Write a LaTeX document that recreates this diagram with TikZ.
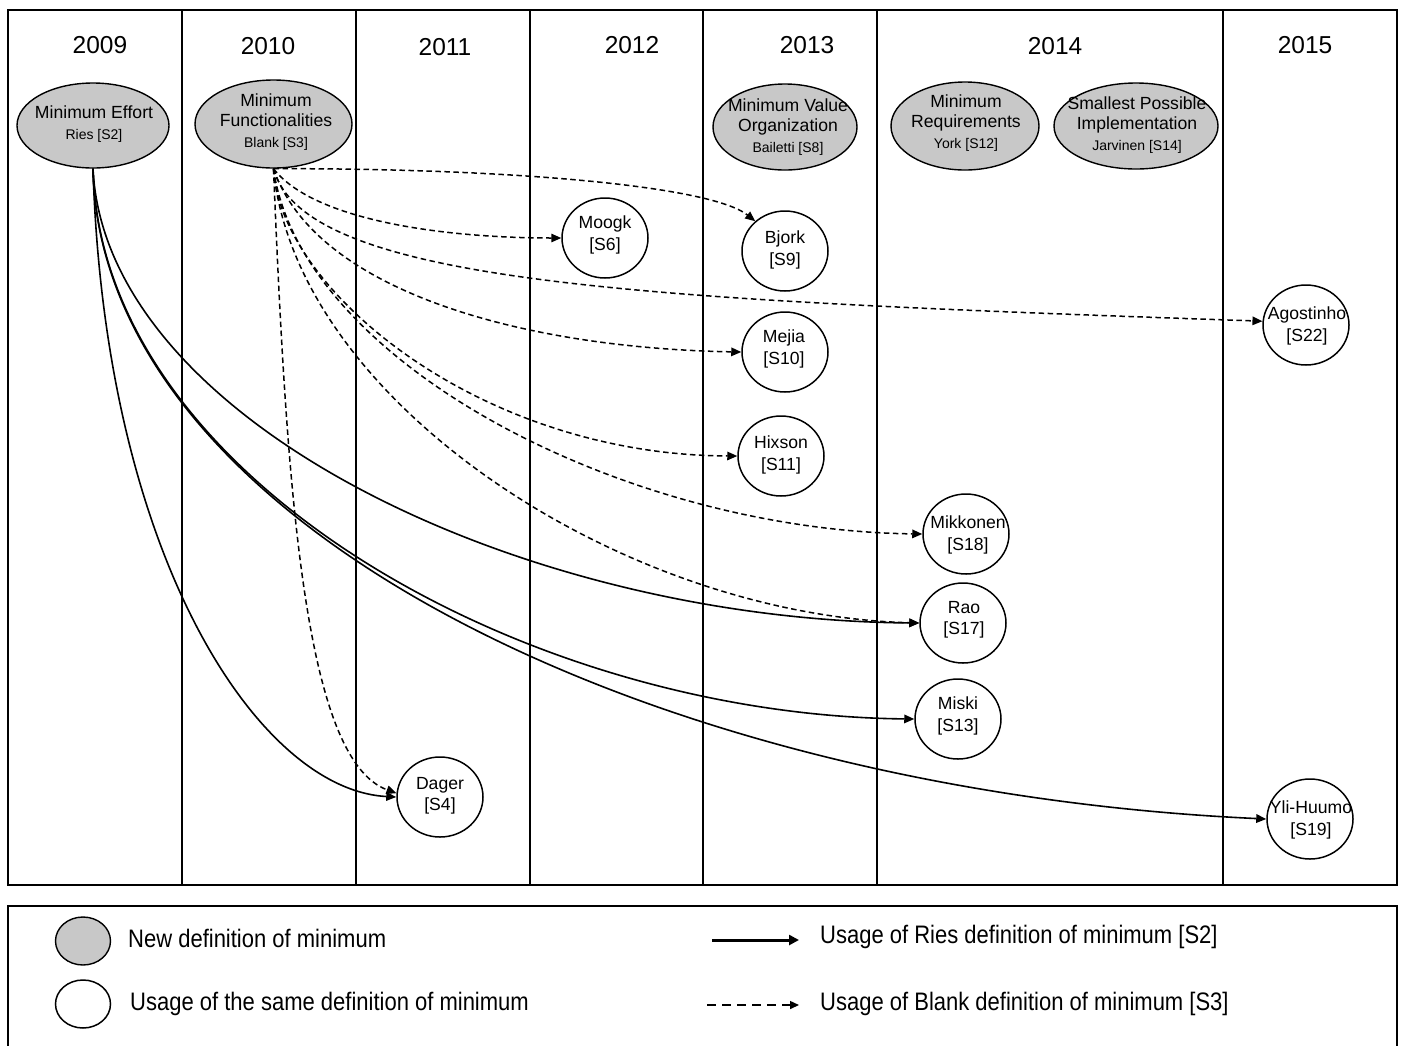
\documentclass[tikz,border=0pt]{standalone}
\usepackage{fontspec}
\setmainfont{Liberation Sans}
\usepackage{graphicx}
\usetikzlibrary{shapes.geometric,arrows.meta}
\definecolor{defgrey}{RGB}{200,200,200}
\newcommand\subtxt[1]{{\fontsize{14}{16}\selectfont #1}}
\newcommand\lscale[1]{\scalebox{1}[1.15]{#1}}
\begin{document}
\begin{tikzpicture}[x=1pt,y=-1pt,
  frame/.style={line width=2pt},
  divider/.style={line width=1.6pt},
  defn/.style={ellipse, draw, fill=defgrey, line width=1.4pt, inner sep=0},
  usenode/.style={ellipse, draw, fill=white, line width=1.5pt, minimum width=86pt, minimum height=80pt, inner sep=0},
  year/.style={font=\fontsize{24.5}{28}\selectfont, inner sep=0},
  dtext/.style={align=center, font=\fontsize{17.6}{20.5}\selectfont, inner sep=0},
  ctext/.style={align=center, font=\fontsize{17.6}{21.5}\selectfont, inner sep=0},
  ltext/.style={anchor=west, font=\fontsize{22}{26}\selectfont, inner sep=0},
  ries/.style={line width=1.6pt, -{Triangle[length=10pt,width=8.5pt]}},
  blank/.style={ries, line width=1.5pt, dash pattern=on 5.5pt off 3.5pt},
]
\useasboundingbox (0,0) rectangle (1403,1045);
\fill[white] (0,0) rectangle (1403,1045);

% frame and columns
\draw[frame] (8,10) rectangle (1397,885);
\foreach \x in {182,356,530,703,877,1223} \draw[divider] (\x,10) -- (\x,885);
\draw[frame] (8,906) rectangle (1397,1060);

% years
\node[year] (y2009) at (100,45) {2009};
\node[year] (y2010) at (268,46) {2010};
\node[year] (y2011) at (445,47) {2011};
\node[year] (y2012) at (632,45) {2012};
\node[year] (y2013) at (807,45) {2013};
\node[year] (y2014) at (1055,46) {2014};
\node[year] (y2015) at (1305,45) {2015};

% new definitions
\node[defn, minimum width=152pt, minimum height=85pt] (me) at (93,125.5) {};
\node[dtext] (met) at (94,124) {Minimum Effort\\\subtxt{Ries [S2]}};
\node[defn, minimum width=157pt, minimum height=88pt] (mf) at (273.5,124) {};
\node[dtext] (mft) at (276,122) {Minimum\\Functionalities\\\subtxt{Blank [S3]}};
\node[defn, minimum width=144pt, minimum height=86pt] (mvo) at (785,127) {};
\node[dtext] (mvot) at (788,127) {Minimum Value\\Organization\\\subtxt{Bailetti [S8]}};
\node[defn, minimum width=148pt, minimum height=88pt] (mr) at (965,126) {};
\node[dtext] (mrt) at (966,123) {Minimum\\Requirements\\\subtxt{York [S12]}};
\node[defn, minimum width=164pt, minimum height=86pt] (spi) at (1136,126) {};
\node[dtext] (spit) at (1137,125) {Smallest Possible\\Implementation\\\subtxt{Jarvinen [S14]}};

% usages
\node[usenode] (moogk) at (605,238) {};
\node[ctext] (moogkt) at (605,235) {Moogk\\{[S6]}};
\node[usenode] (bjork) at (785,251) {};
\node[ctext] (bjorkt) at (785,250) {Bjork\\{[S9]}};
\node[usenode] (mejia) at (785,352) {};
\node[ctext] (mejiat) at (784,349) {Mejia\\{[S10]}};
\node[usenode] (hixson) at (781,456) {};
\node[ctext] (hixsont) at (781,455) {Hixson\\{[S11]}};
\node[usenode] (agost) at (1306,325) {};
\node[ctext] (agostt) at (1307,326) {Agostinho\\{[S22]}};
\node[usenode] (mikk) at (966,534) {};
\node[ctext] (mikkt) at (968,535) {Mikkonen\\{[S18]}};
\node[usenode] (rao) at (963,623) {};
\node[ctext] (raot) at (964,620) {Rao\\{[S17]}};
\node[usenode] (miski) at (958,719) {};
\node[ctext] (miskit) at (958,716) {Miski\\{[S13]}};
\node[usenode] (yli) at (1310,819) {};
\node[ctext] (ylit) at (1311,820) {Yli-Huumo\\{[S19]}};
\node[usenode] (dager) at (440,797) {};
\node[ctext] (dagert) at (440,796) {Dager\\{[S4]}};

% Ries usages
\draw[ries] (me.south) .. controls (105,560) and (260,790) .. (dager.west);
\draw[ries] (me.south) .. controls (105,420) and (520,620) .. (rao.west);
\draw[ries] (me.south) .. controls (100,475) and (520,715) .. (miski.west);
\draw[ries] (me.south) .. controls (100,520) and (640,790) .. (yli.west);

% Blank usages
\draw[blank] (mf.south) .. controls (500,168) and (710,185) .. (bjork.135);
\draw[blank] (mf.south) .. controls (315,222) and (450,238) .. (moogk.west);
\draw[blank] (mf.south) .. controls (305,285) and (650,300) .. (agost.175);
\draw[blank] (mf.south) .. controls (315,290) and (520,348) .. (mejia.west);
\draw[blank] (mf.south) .. controls (280,290) and (480,455) .. (hixson.west);
\draw[blank] (mf.south) .. controls (300,360) and (620,530) .. (mikk.west);
\draw[blank] (mf.south) .. controls (295,400) and (620,615) .. (rao.west);
\draw[blank] (mf.south) .. controls (287,500) and (305,760) .. (dager.175);

% legend
\node[defn, minimum width=55pt, minimum height=48pt] (lgnew) at (83,941) {};
\node[usenode, minimum width=55pt, minimum height=48pt] (lguse) at (83,1004) {};
\node[ltext] (lgnewt) at (128,938) {\lscale{New definition of minimum}};
\node[ltext] (lguset) at (130,1004) {\lscale{Usage of the same definition of minimum}};
\coordinate (lr1) at (712,940);
\coordinate (lr2) at (799,940);
\draw[line width=3pt, -{Triangle[length=10pt,width=10pt]}] (lr1) -- (lr2);
\node[ltext] (lgriest) at (820,937) {\lscale{Usage of Ries definition of minimum [S2]}};
\coordinate (lb1) at (707,1005);
\coordinate (lb2) at (799,1005);
\draw[line width=1.5pt, dash pattern=on 9pt off 6pt, -{Triangle[length=9pt,width=8pt]}] (lb1) -- (lb2);
\node[ltext] (lgblankt) at (820,1004) {\lscale{Usage of Blank definition of minimum [S3]}};
\end{tikzpicture}
\end{document}
